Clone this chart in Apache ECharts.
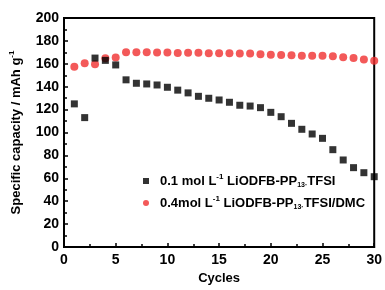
<!DOCTYPE html>
<html>
<head>
<meta charset="utf-8">
<script src="https://cdn.jsdelivr.net/npm/echarts@6/dist/echarts.min.js"></script>
<style>
  html, body { margin: 0; padding: 0; background: #fff; }
  #chart { width: 385px; height: 290px; }
</style>
</head>
<body>
<div id="chart"></div>
<script>
// cycle numbers
var cycles = [1, 2, 3, 4, 5, 6, 7, 8, 9, 10, 11, 12, 13, 14, 15, 16, 17, 18, 19, 20, 21, 22, 23, 24, 25, 26, 27, 28, 29, 30];
// 0.1 mol/L LiODFB-PP13.TFSI
var capTfsi = [125, 113, 165, 163, 159, 146, 143, 142.4, 141.5, 139.5, 137, 134.6, 131.6, 129.9, 128.4, 126.4, 123.8, 123.1, 121.7, 117.6, 113.8, 108, 102.8, 98.7, 94.9, 85, 76, 69.3, 64.9, 61.4];
// 0.4 mol/L LiODFB-PP13.TFSI/DMC
var capDmc = [157.5, 160.4, 159.5, 164.8, 165.4, 170, 170, 170, 169.8, 169.8, 169.5, 169.6, 169.6, 169.2, 169.2, 169.2, 169, 168.9, 168.3, 168, 167.6, 167.5, 167, 167, 167, 166.5, 165.8, 165, 163.8, 162.6];

function pairs(xs, ys) {
  var out = [];
  for (var i = 0; i < xs.length; i++) out.push([xs[i], ys[i]]);
  return out;
}

var myChart = echarts.init(document.getElementById('chart'));
var font = 'Liberation Sans, Arial, sans-serif';

var option = {
  animation: false,
  grid: {
    left: 64, right: 9, top: 18, bottom: 43,
    show: true, borderColor: '#000', borderWidth: 2
  },
  legend: {
    orient: 'vertical',
    left: 138,
    top: 168,
    itemWidth: 6,
    itemHeight: 6,
    itemGap: 6,
    textStyle: {
      fontFamily: font, fontWeight: 'bold', fontSize: 13, color: '#000',
      padding: [0, 0, 0, 6],
      rich: {
        sup: { fontFamily: font, fontWeight: 'bold', fontSize: 8, verticalAlign: 'top', padding: [0, 0, 8, 0] },
        sub: { fontFamily: font, fontWeight: 'bold', fontSize: 7, verticalAlign: 'bottom', padding: [8, 0, 0, 0] }
      }
    },
    formatter: function (name) {
      if (name === 'a') return '0.1 mol L{sup|-1} LiODFB-PP{sub|13·}TFSI';
      return '0.4mol L{sup|-1} LiODFB-PP{sub|13·}TFSI/DMC';
    },
    data: ['a', 'b']
  },
  xAxis: {
    type: 'value',
    min: 0, max: 30, interval: 5,
    name: 'Cycles',
    nameLocation: 'middle',
    nameGap: 24,
    nameTextStyle: { fontFamily: font, fontWeight: 'bold', fontSize: 13, color: '#000' },
    axisLine: { lineStyle: { color: '#000', width: 2 } },
    axisTick: { inside: true, length: 4, lineStyle: { width: 1.5 } },
    minorTick: { show: true, splitNumber: 2, length: 3, lineStyle: { color: '#000', width: 1.5 } },
    axisLabel: { fontFamily: font, fontWeight: 'bold', fontSize: 14, color: '#000', margin: 6 },
    splitLine: { show: false }
  },
  yAxis: {
    type: 'value',
    min: 0, max: 200, interval: 20,
    name: 'Specific capacity / mAh g{sup|-1}',
    nameLocation: 'middle',
    nameGap: 40,
    nameTextStyle: {
      fontFamily: font, fontWeight: 'bold', fontSize: 13, color: '#000',
      rich: {
        sup: { fontFamily: font, fontWeight: 'bold', fontSize: 8, verticalAlign: 'top', padding: [0, 0, 8, 0] }
      }
    },
    axisLine: { lineStyle: { color: '#000', width: 2 } },
    axisTick: { inside: true, length: 4, lineStyle: { width: 1.5 } },
    minorTick: { show: true, splitNumber: 2, length: 3, lineStyle: { color: '#000', width: 1.5 } },
    axisLabel: { fontFamily: font, fontWeight: 'bold', fontSize: 14, color: '#000', margin: 5 },
    splitLine: { show: false }
  },
  series: [
    {
      name: 'a',
      type: 'scatter',
      symbol: 'rect',
      symbolSize: 7,
      itemStyle: { color: '#000' },
      data: pairs(cycles, capTfsi),
      z: 3
    },
    {
      name: 'b',
      type: 'scatter',
      symbol: 'circle',
      symbolSize: 8,
      itemStyle: { color: '#f03030' },
      data: pairs(cycles, capDmc),
      z: 2
    }
  ]
};

myChart.setOption(option);
</script>
</body>
</html>
